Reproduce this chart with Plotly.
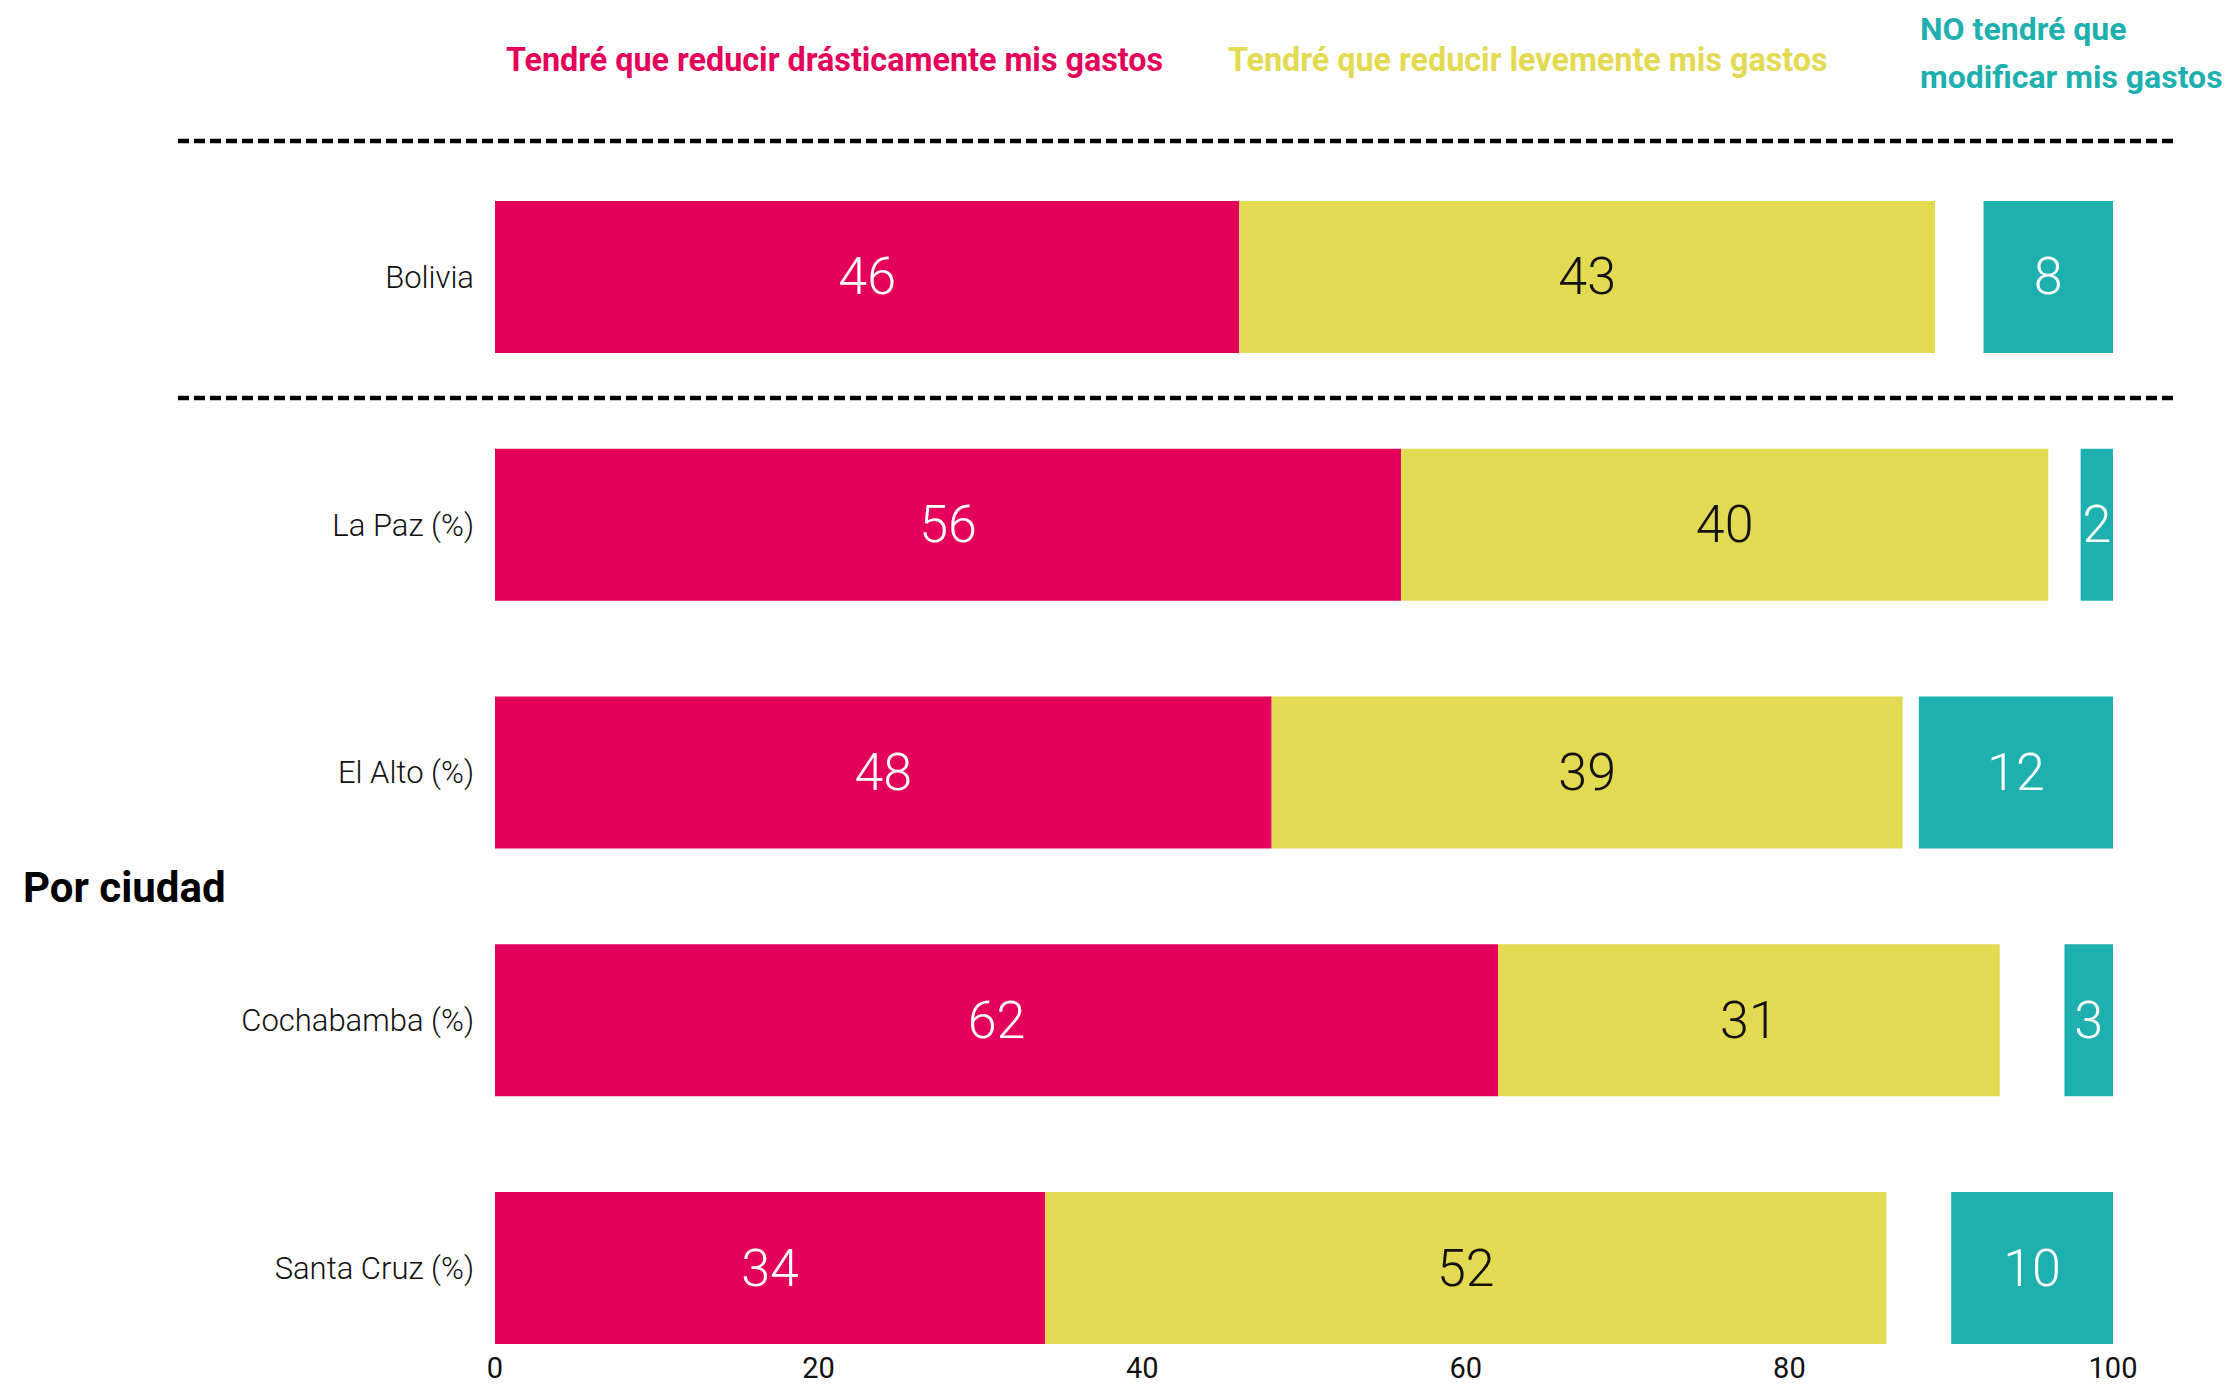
import plotly.graph_objects as go

# ---- data ----
categories = ["Bolivia", "La Paz (%)", "El Alto (%)", "Cochabamba (%)", "Santa Cruz (%)"]
drastic = [46, 56, 48, 62, 34]
slight = [43, 40, 39, 31, 52]
no_change = [8, 2, 12, 3, 10]
x_ticks = [0, 20, 40, 60, 80, 100]

series_names = [
    "Tendré que reducir drásticamente mis gastos",
    "Tendré que reducir levemente mis gastos",
    "NO tendré que modificar mis gastos",
]

MAGENTA = "#E4005A"
YELLOW = "#E2DA50"
TEAL = "#1EAFAF"

W, H = 2232, 1384
L, R, T, B = 495, 119, 201, 40
PW, PH = W - L - R, H - T - B


def px(x):
    return (x - L) / PW


def py(y):
    return (H - B - y) / PH


num_font = dict(family="Roboto", size=52, weight=300)

fig = go.Figure()
fig.add_trace(go.Bar(
    y=categories, x=drastic, orientation="h", name=series_names[0],
    marker=dict(color=MAGENTA, line=dict(width=0)),
    text=drastic, textposition="inside", insidetextanchor="middle",
    textangle=0, constraintext="none",
    textfont=dict(color="white", **num_font),
))
fig.add_trace(go.Bar(
    y=categories, x=slight, base=drastic, orientation="h", name=series_names[1],
    marker=dict(color=YELLOW, line=dict(width=0)),
    text=slight, textposition="inside", insidetextanchor="middle",
    textangle=0, constraintext="none",
    textfont=dict(color="#111111", **num_font),
))
fig.add_trace(go.Bar(
    y=categories, x=no_change, base=[100 - v for v in no_change], orientation="h",
    name=series_names[2],
    marker=dict(color=TEAL, line=dict(width=0)),
    text=no_change, textposition="inside", insidetextanchor="middle",
    textangle=0, constraintext="none",
    textfont=dict(color="white", **num_font),
))

half = (1 - 0.387) / 2
fig.update_layout(
    width=W, height=H,
    margin=dict(l=L, r=R, t=T, b=B, autoexpand=False),
    barmode="overlay", bargap=0.387,
    showlegend=False,
    plot_bgcolor="white", paper_bgcolor="white",
    font=dict(family="Roboto", color="#111111"),
    xaxis=dict(
        range=[0, 100], tickvals=x_ticks, ticktext=[str(v) for v in x_ticks],
        showgrid=False, zeroline=False, showline=False, ticks="",
        ticklabelstandoff=4,
        tickfont=dict(family="Roboto", size=29, color="#111111"),
        fixedrange=True,
    ),
    yaxis=dict(
        type="category", categoryorder="array", categoryarray=categories,
        range=[4 + half, -half],
        showgrid=False, zeroline=False, showline=False, ticks="",
        ticklabelstandoff=20,
        tickfont=dict(family="Roboto", size=31, weight=300, color="#111111"),
        fixedrange=True,
    ),
)

# dashed separators
for yy in (141, 398):
    fig.add_shape(type="line", xref="paper", yref="paper",
                  x0=px(178), x1=px(2173), y0=py(yy), y1=py(yy),
                  line=dict(color="black", width=4.5, dash="11px,5px"))

head_font = dict(family="Roboto", size=32, weight=700)
fig.add_annotation(text=series_names[0], xref="paper", yref="paper",
                   x=px(504), y=py(60), xanchor="left", yanchor="middle",
                   showarrow=False, font=dict(color=MAGENTA, family="Roboto", size=32.3, weight=700))
fig.add_annotation(text=series_names[1], xref="paper", yref="paper",
                   x=px(1226), y=py(60), xanchor="left", yanchor="middle",
                   showarrow=False, font=dict(color=YELLOW, family="Roboto", size=32.3, weight=700))
fig.add_annotation(text="NO tendré que", xref="paper", yref="paper",
                   x=px(1918), y=py(29), xanchor="left", yanchor="middle",
                   showarrow=False, font=dict(color=TEAL, **head_font))
fig.add_annotation(text="modificar mis gastos", xref="paper", yref="paper",
                   x=px(1918), y=py(77), xanchor="left", yanchor="middle",
                   showarrow=False, font=dict(color=TEAL, **head_font))
fig.add_annotation(text="Por ciudad", xref="paper", yref="paper",
                   x=px(21), y=py(887), xanchor="left", yanchor="middle",
                   showarrow=False, font=dict(family="Roboto", size=42, weight=700, color="black"))

fig.write_html(
    "out.html",
    config={"displayModeBar": False},
    post_script="document.body.style.margin='0';document.body.style.overflow='hidden';",
)
